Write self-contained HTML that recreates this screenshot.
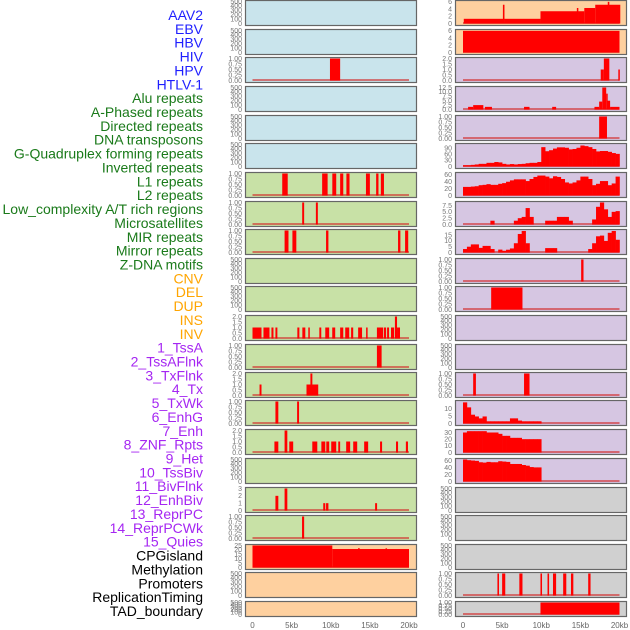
<!DOCTYPE html>
<html><head><meta charset="utf-8">
<style>
html,body{margin:0;padding:0;background:#fff;width:630px;height:630px;overflow:hidden}
svg{display:block}
.lab{font-family:"Liberation Sans",sans-serif;font-size:14px}
.tk{font-family:"Liberation Sans",sans-serif;font-size:7px;fill:#777}
.xt{font-family:"Liberation Sans",sans-serif;font-size:8px;fill:#666}
</style></head>
<body>
<svg id="chart" width="630" height="630" viewBox="0 0 630 630"></svg>
<script>
// ---- data ----
const labels=["AAV2","EBV","HBV","HIV","HPV","HTLV-1","Alu repeats","A-Phased repeats","Directed repeats","DNA transposons","G-Quadruplex forming repeats","Inverted repeats","L1 repeats","L2 repeats","Low_complexity A/T rich regions","Microsatellites","MIR repeats","Mirror repeats","Z-DNA motifs","CNV","DEL","DUP","INS","INV","1_TssA","2_TssAFlnk","3_TxFlnk","4_Tx","5_TxWk","6_EnhG","7_Enh","8_ZNF_Rpts","9_Het","10_TssBiv","11_BivFlnk","12_EnhBiv","13_ReprPC","14_ReprPCWk","15_Quies","CPGisland","Methylation","Promoters","ReplicationTiming","TAD_boundary"];
const labelGroups=[0,0,0,0,0,0,1,1,1,1,1,1,1,1,1,1,1,1,1,2,2,2,2,2,3,3,3,3,3,3,3,3,3,3,3,3,3,3,3,4,4,4,4,4];
const xTickValues=[0,5,10,15,20];
const xTickLabels=["0","5kb","10kb","15kb","20kb"];
const ticks500=[0,100,200,300,400,500];
const ticks1=[0,0.25,0.5,0.75,1];
const ticks2=[0,0.5,1,1.5,2];
const ticks3=[0,1,2,3];
// left column intervals [startKb,endKb,value]
const hivBars=[[9.9,11.2,1]];
const l1Bars=[[3.8,4.5,1],[8.9,9.6,1],[10.2,10.7,1],[11.2,11.6,1],[12.0,12.4,1],[14.5,15.0,1],[15.8,16.1,1],[16.4,16.8,1]];
const l2Bars=[[6.35,6.6,1],[8.1,8.35,1]];
const lowCompBars=[[4.1,4.6,1],[5.1,5.6,1],[9.4,9.7,1],[18.6,18.9,1],[19.5,19.9,1]];
const insBars=[[0,1.15,1],[1.4,2.17,1],[2.42,2.68,1],[2.93,3.18,1],[5.73,5.99,1],[6.37,6.75,1],[7.13,7.26,1],[8.54,8.79,1],[9.3,9.8,1],[10.19,10.57,1],[11.2,11.6,1],[11.85,12.36,1],[12.6,12.87,1],[13.5,14.0,1],[14.52,14.65,1],[15.9,16.7,1],[16.8,17.07,1],[17.2,17.45,1],[17.7,18.1,1],[18.2,18.47,2],[18.47,18.85,1]];
const tssABars=[[15.9,16.5,1]];
const tssAFlnkBars=[[0.9,1.15,1],[6.9,8.4,1],[7.4,7.65,2]];
const txFlnkBars=[[2.93,3.3,1],[5.7,5.95,1]];
const txBars=[[2.8,3.3,1],[4.1,4.45,2],[4.7,5.2,1],[7.64,8.28,1],[8.8,9.3,1],[9.43,9.8,1],[10.06,10.7,1],[10.96,11.2,1],[11.97,12.48,1],[12.87,13.38,1],[14.27,14.78,1],[16.3,16.56,1],[18.34,18.6,1],[19.6,19.87,1]];
const enhBars=[[2.93,3.3,2],[4.1,4.45,3],[9.04,9.3,1],[9.4,9.7,1],[15.67,15.92,1]];
const znfBars=[[6.33,6.6,1]];
const cpgBars=[[0,10.2,25],[10.2,20,21],[13.5,13.6,22],[17.0,17.1,21.8]];
// right column
const aav2Bars=[[0.1,5.2,1.3],[5.1,5.3,5.2],[5.3,9.9,1.3],[9.9,14.6,3.4],[14.55,14.7,4.3],[14.7,15.5,3.4],[15.5,16.9,4.3],[16.9,20.1,5.2],[18.5,18.7,6]];
const ebvBars=[[0,20,6]];
const hbvBars=[[17.6,18.0,1],[18.0,18.7,2],[19.85,20,1]];
const hivRBars=[[0.65,1.3,1.5],[1.3,2.6,2.5],[2.8,3.7,1.5],[7.8,8.5,1.5],[11.4,11.9,1.5],[16.8,17.4,1.5],[17.4,17.8,4.5],[17.8,18.3,12.5],[18.3,18.4,9],[18.4,18.8,5],[18.8,20,1.5]];
const hpvBars=[[17.4,18.4,1]];
const gquadBins=[6,6,8,10,13,13,18,18,22,20,13,10,12,10,12,13,16,18,18,22,95,75,80,88,94,94,92,84,86,92,103,100,95,86,74,76,76,72,66,62];
const invBins=[25,25,26,27,30,31,33,31,31,34,36,40,44,47,47,47,42,48,54,58,58,55,50,56,54,48,38,35,38,44,55,55,48,30,34,42,42,30,35,55];
const l1RBins=[0,0,0,0,0,0,0,1.5,0,0,0,0,0,1.5,2.5,3,6.5,3,0,0,0,1.5,1.5,1.5,3,3,3,1.5,0,0,0,0,0,2,7,8.7,6,3,5,5.3];
const l2RBins=[3,5,7,7,4,5.7,5.7,3,0,2.5,1.5,2.4,3.5,8,16,18.6,8,0,0,0,0,3.8,3.8,3.8,0,0,0,0,0,0,0,0,3,8,14,14.6,10,17,18.6,11];
const microBars=[[15.1,15.4,1]];
const delBars=[[3.6,7.6,1]];
const txRBars=[[1.3,1.65,1],[7.8,8.5,1]];
const txWkBins=[14.4,11,6,4.8,3.5,4.8,1.5,1.5,1.5,1.5,1.5,1.5,3.5,3.5,2,1.5,1.5,1.5,1.5,1.5];
const enhGBins=[30,32,32,32,32,32,30,30,30,28,25,25,22,22,22,20,20,20,20,20];
const enhRBins=[64,62,61,60,56,55,57,56,56,59,58,57,51,51,51,48,46,42,41,41];
const promoterBars=[[4.4,4.6,1],[5.0,5.4,1],[7.2,7.6,1],[9.9,10.1,1],[10.8,11.0,1],[11.5,11.9,1],[12.8,13.2,1],[13.8,14.1,1],[16.0,16.3,1]];
const tadBars=[[9.9,20,1]];

// ---- layout ----
const rowTops=[0,29,57,86,115,143,172,201,229,258,286,315,344,372,400,429,458,487,515,544,572,601];
const BG={blue:"#c9e4ec",green:"#c8e1a6",orange:"#fed09f",purple:"#d6c6e2",gray:"#d0d0d0"};
const cols=[{frameX:245,frameW:171,x0:252.5,x20:409},{frameX:455,frameW:171,x0:463,x20:619.5}];
const P=(col,row,bg,ticks,ymax,bars,bins,name,dec)=>({col,row,bg,ticks,ymax,bars,bins,name,dec:dec||0});
const panels=[
P(0,0,"blue",ticks500,500,null,null,"aav2-left"),
P(0,1,"blue",ticks500,500,null,null,"ebv-left"),
P(0,2,"blue",ticks1,1,hivBars,null,"hbv-left",2),
P(0,3,"blue",ticks500,500,null,null,"hiv-left"),
P(0,4,"blue",ticks500,500,null,null,"hpv-left"),
P(0,5,"blue",ticks500,500,null,null,"htlv-left"),
P(0,6,"green",ticks1,1,l1Bars,null,"alu-left",2),
P(0,7,"green",ticks1,1,l2Bars,null,"aphased-left",2),
P(0,8,"green",ticks1,1,lowCompBars,null,"directed-left",2),
P(0,9,"green",ticks500,500,null,null,"dna-transposons-left"),
P(0,10,"green",ticks500,500,null,null,"gquad-left"),
P(0,11,"green",ticks2,2,insBars,null,"inverted-left",1),
P(0,12,"green",ticks1,1,tssABars,null,"l1-left",2),
P(0,13,"green",ticks2,2,tssAFlnkBars,null,"l2-left",1),
P(0,14,"green",ticks1,1,txFlnkBars,null,"lowcomp-left",2),
P(0,15,"green",ticks2,2,txBars,null,"micro-left",1),
P(0,16,"green",ticks500,500,null,null,"mir-left"),
P(0,17,"green",ticks3,3,enhBars,null,"mirror-left"),
P(0,18,"green",ticks1,1,znfBars,null,"zdna-left",2),
P(0,19,"orange",[0,5,10,15,20,25],25,cpgBars,null,"cnv-left"),
P(0,20,"orange",ticks500,500,null,null,"del-left"),
P(0,21,"orange",ticks500,500,null,null,"dup-left"),
P(1,0,"orange",[0,2,4,6],6.1,aav2Bars,null,"aav2-right"),
P(1,1,"orange",[0,2,4,6],6.1,ebvBars,null,"ebv-right"),
P(1,2,"purple",ticks2,2,hbvBars,null,"hbv-right",1),
P(1,3,"purple",[0,2.5,5,7.5,10,12.5],12.5,hivRBars,null,"hiv-right",1),
P(1,4,"purple",ticks1,1,hpvBars,null,"hpv-right",2),
P(1,5,"purple",[0,30,60,90],108,null,gquadBins,"htlv-right"),
P(1,6,"purple",[0,20,40,60],64,null,invBins,"alu-right"),
P(1,7,"purple",[0,2.5,5,7.5],8.7,null,l1RBins,"aphased-right",1),
P(1,8,"purple",[0,5,10,15],19,null,l2RBins,"directed-right"),
P(1,9,"purple",ticks1,1,microBars,null,"dna-right",2),
P(1,10,"purple",ticks1,1,delBars,null,"gquad-right",2),
P(1,11,"purple",ticks500,500,null,null,"inverted-right"),
P(1,12,"purple",ticks500,500,null,null,"l1-right"),
P(1,13,"purple",ticks1,1,txRBars,null,"l2-right",2),
P(1,14,"purple",[0,5,10],15,null,txWkBins,"lowcomp-right"),
P(1,15,"purple",[0,10,20,30],33,null,enhGBins,"micro-right"),
P(1,16,"purple",[0,20,40,60],64,null,enhRBins,"mir-right"),
P(1,17,"gray",ticks500,500,null,null,"mirror-right"),
P(1,18,"gray",ticks500,500,null,null,"zdna-right"),
P(1,19,"gray",ticks500,500,null,null,"cnv-right"),
P(1,20,"gray",ticks1,1,promoterBars,null,"del-right",2),
P(1,21,"gray",ticks1,1,tadBars,null,"dup-right",2)
];
const NS="http://www.w3.org/2000/svg";
const svg=document.getElementById('chart');
function mk(tag,attrs,parent){const e=document.createElementNS(NS,tag);for(const k in attrs)e.setAttribute(k,attrs[k]);(parent||svg).appendChild(e);return e;}

// labels
const labelColors=["#1f1fff","#1a7a1a","#ffa500","#a526f2","#000"];
labels.forEach((t,i)=>{
  const e=mk('text',{x:203,y:15+i*13.86+5,'text-anchor':'end',class:'lab',fill:labelColors[labelGroups[i]]});
  e.textContent=t;
  
  
});

panels.forEach(p=>{
  const c=cols[p.col];
  const top=rowTops[p.row];
  const h=(p.row===21)?15:25;
  const g=mk('g',{});
  
  
  mk('rect',{x:c.frameX+0.5,y:top+0.5,width:c.frameW,height:h,fill:BG[p.bg],stroke:"#666",'stroke-width':1.2},g);
  const ybot=top+h-1.5, ytop=top+1.5;
  const xs=kb=>c.x0+(kb/20)*(c.x20-c.x0);
  const ys=v=>ybot-(v/p.ymax)*(ybot-ytop);
  p.ticks.forEach(tv=>{
    const t=mk('text',{x:c.frameX-3,y:ys(tv)+2.3,'text-anchor':'end',class:'tk'},g);
    t.textContent=tv.toFixed(p.dec);
    
    
  });
  const hasData=p.bars||p.bins;
  if(hasData){
    const bl=mk('line',{x1:xs(0),x2:xs(20),y1:ybot-0.5,y2:ybot-0.5,stroke:"rgba(210,40,40,0.6)",'stroke-width':2},g);
    
    
  }
  if(p.bars){
    p.bars.forEach(b=>{
      const r=mk('rect',{x:xs(b[0]),y:ys(b[2]),width:Math.max(1.5,xs(b[1])-xs(b[0])),height:ybot-ys(b[2]),fill:"#ff0000"},g);
      
      
    });
  }
  if(p.bins){
    p.bins.forEach((v,i)=>{
      if(v<=0)return;
      const r=mk('rect',{x:xs(i*0.5),y:ys(v),width:xs((i+1)*0.5)-xs(i*0.5)+0.3,height:ybot-ys(v),fill:"#ff0000"},g);
      
      
    });
  }
});

cols.forEach((c,ci)=>{
  xTickValues.forEach((v,i)=>{
    const t=mk('text',{x:c.x0+(v/20)*(c.x20-c.x0),y:628,'text-anchor':'middle',class:'xt'});
    t.textContent=xTickLabels[i];
    
    
  });
});
</script>
</body></html>
